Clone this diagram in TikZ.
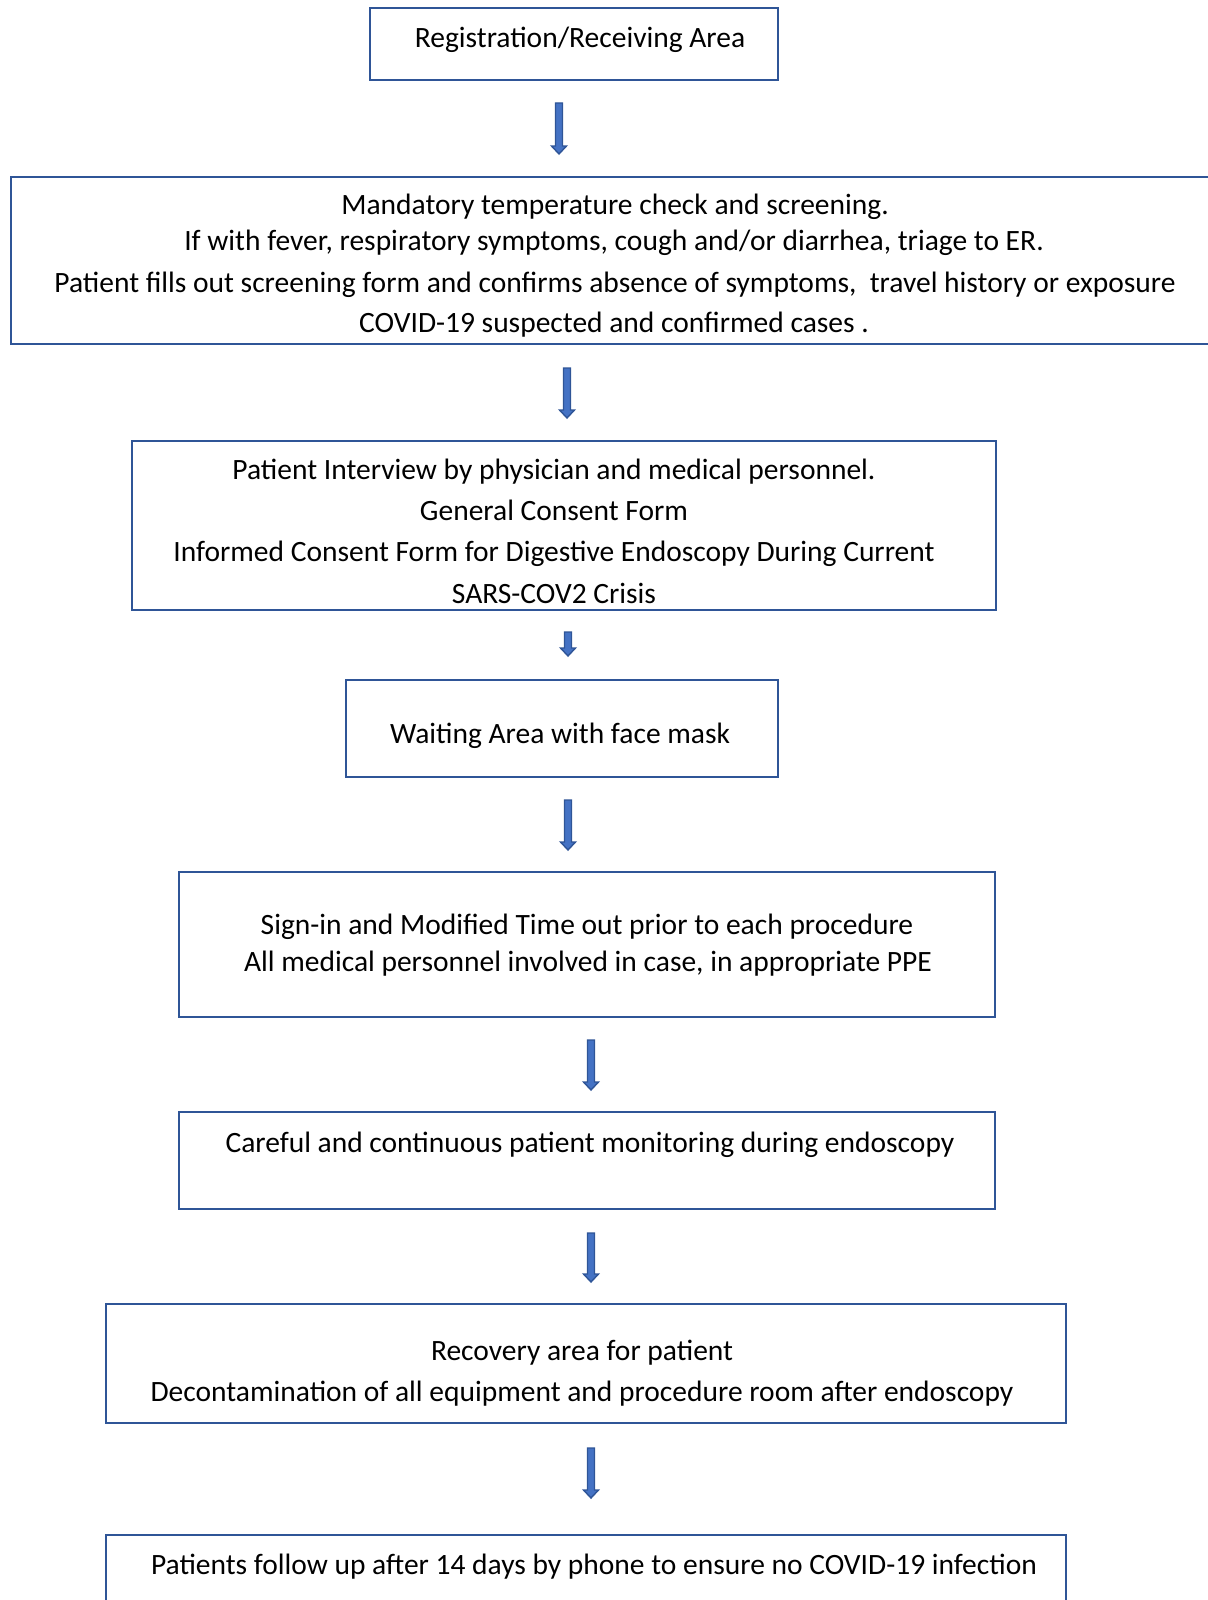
\documentclass[tikz,border=0pt]{standalone}
\usepackage{fontspec}
\setmainfont{Carlito}
\usetikzlibrary{calc}
\definecolor{boxblue}{RGB}{47,85,151}
\definecolor{arrfill}{RGB}{68,114,196}
\tikzset{
  box/.style={draw=boxblue, line width=1.45pt, inner sep=0pt, outer sep=0pt, fill=none},
  txt/.style={anchor=base, inner sep=0pt, font=\fontsize{14.75}{17}\selectfont, text=black},
  blk/.style={draw=boxblue, fill=arrfill, line width=0.7pt, line join=miter}
}
\newcommand{\barrow}[2]{%
  \draw[blk] ($(#1)+(-3.5,0)$) -- ($(#2)+(-3.5,-8)$) -- ($(#2)+(-7.5,-8)$) -- (#2)
    -- ($(#2)+(7.5,-8)$) -- ($(#2)+(3.5,-8)$) -- ($(#1)+(3.5,0)$) -- cycle;}
\begin{document}
\begin{tikzpicture}[x=0.5pt, y=-0.5pt]
\useasboundingbox (0,0) rectangle (1207,1600);
% boxes
\node[box, minimum width=204pt, minimum height=36pt] (b1) at (574,44) {};
\node[box, minimum width=605pt, minimum height=83.5pt] (b2) at (616,260.5) {};
\node[box, minimum width=432pt, minimum height=84.5pt] (b3) at (564,525.5) {};
\node[box, minimum width=216pt, minimum height=48.5pt] (b4) at (562,728.5) {};
\node[box, minimum width=408pt, minimum height=72.5pt] (b5) at (587,944.5) {};
\node[box, minimum width=408pt, minimum height=48.5pt] (b6) at (587,1160.5) {};
\node[box, minimum width=480pt, minimum height=59.5pt] (b7) at (586,1363.5) {};
\node[box, minimum width=480pt, minimum height=60pt] (b8) at (586,1595) {};
% texts
\node[txt] (t1) at (580,48) {Registration/Receiving Area};
\node[txt] (t2a) at (615,214) {Mandatory temperature check and screening.};
\node[txt] (t2b) at (614,250) {If with fever, respiratory symptoms, cough and/or diarrhea, triage to ER.};
\node[txt] (t2c) at (615,292) {Patient fills out screening form and confirms absence of symptoms,\ \ travel history or exposure};
\node[txt] (t2d) at (614,332) {COVID-19 suspected and confirmed cases .};
\node[txt] (t3a) at (554,479) {Patient Interview by physician and medical personnel.};
\node[txt] (t3b) at (554,520) {General Consent Form};
\node[txt] (t3c) at (554,561) {Informed Consent Form for Digestive Endoscopy During Current};
\node[txt] (t3d) at (554,603) {SARS-COV2 Crisis};
\node[txt] (t4) at (560,743) {Waiting Area with face mask};
\node[txt] (t5a) at (587,934) {Sign-in and Modified Time out prior to each procedure};
\node[txt] (t5b) at (588,971) {All medical personnel involved in case, in appropriate PPE};
\node[txt] (t6) at (590,1152) {Careful and continuous patient monitoring during endoscopy};
\node[txt] (t7a) at (582,1360) {Recovery area for patient};
\node[txt] (t7b) at (582,1401) {Decontamination of all equipment and procedure room after endoscopy};
\node[txt] (t8) at (594,1574) {Patients follow up after 14 days by phone to ensure no COVID-19 infection};
% arrows
\coordinate (a1s) at (559,103); \coordinate (a1e) at (559,154);
\coordinate (a2s) at (567,368); \coordinate (a2e) at (567,418);
\coordinate (a3s) at (568,632); \coordinate (a3e) at (568,656);
\coordinate (a4s) at (568,800); \coordinate (a4e) at (568,850);
\coordinate (a5s) at (591,1040); \coordinate (a5e) at (591,1090);
\coordinate (a6s) at (591,1233); \coordinate (a6e) at (591,1282);
\coordinate (a7s) at (591,1448); \coordinate (a7e) at (591,1498);
\barrow{a1s}{a1e}
\barrow{a2s}{a2e}
\barrow{a3s}{a3e}
\barrow{a4s}{a4e}
\barrow{a5s}{a5e}
\barrow{a6s}{a6e}
\barrow{a7s}{a7e}
\end{tikzpicture}
\end{document}
